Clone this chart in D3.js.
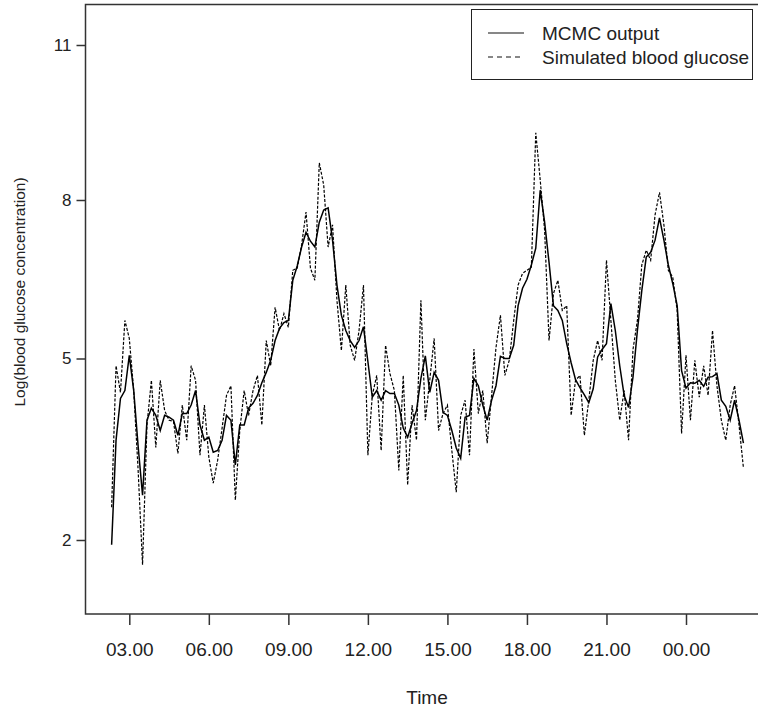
<!DOCTYPE html>
<html>
<head>
<meta charset="utf-8">
<script src="https://cdn.jsdelivr.net/npm/d3@7"></script>
<style>
  html, body { margin: 0; padding: 0; background: #fff; }
  svg { display: block; }
  text { font-family: "Liberation Sans", Arial, Helvetica, sans-serif; fill: #222; }
</style>
</head>
<body>
<svg id="chart" width="758" height="711"></svg>
<script>
// Readings every 10 minutes, starting 02:20
const startTime = "2000-01-01 02:20";
const stepMinutes = 10;

// Posterior (MCMC) estimate of log blood glucose
const mcmcOutput = [
  1.92, 3.65, 4.34, 4.47, 5.06, 4.47, 3.55, 2.74, 3.98, 4.18,
  4.06, 3.81, 4.06, 4.03, 3.98, 3.73, 4.09, 4.09, 4.23, 4.47,
  3.90, 3.65, 3.70, 3.45, 3.48, 3.65, 4.06, 3.98, 3.24, 3.90,
  3.90, 4.18, 4.26, 4.39, 4.60, 4.77, 4.97, 5.34, 5.57, 5.68,
  5.72, 6.48, 6.75, 7.11, 7.39, 7.22, 7.11, 7.58, 7.81, 7.85,
  7.24, 6.39, 5.82, 5.53, 5.34, 5.21, 5.34, 5.60, 4.95, 4.36,
  4.47, 4.31, 4.47, 4.42, 4.42, 4.23, 3.85, 3.70, 3.93, 4.14,
  4.67, 5.05, 4.44, 4.77, 4.64, 4.11, 4.06, 3.81, 3.52, 3.35,
  4.03, 4.06, 4.67, 4.55, 4.23, 3.98, 4.31, 4.55, 5.04, 5.00,
  5.00, 5.25, 6.00, 6.33, 6.50, 6.77, 7.09, 8.19, 7.58, 6.82,
  6.00, 5.91, 5.72, 5.28, 4.93, 4.65, 4.52, 4.40, 4.27, 4.50,
  5.03, 5.17, 5.28, 6.04, 5.53, 4.88, 4.39, 4.19, 4.69, 5.53,
  6.29, 6.92, 7.01, 7.24, 7.66, 7.24, 6.77, 6.42, 6.00, 4.80,
  4.51, 4.60, 4.59, 4.64, 4.54, 4.69, 4.70, 4.75, 4.31, 4.21,
  3.98, 4.31, 3.98, 3.60
];

// Simulated blood glucose series
const simulatedGlucose = [
  2.54, 4.88, 4.44, 5.72, 5.38, 4.47, 3.15, 1.59, 3.90, 4.64,
  3.53, 4.64, 4.14, 3.98, 3.96, 3.43, 4.23, 3.65, 4.88, 4.64,
  3.40, 4.23, 3.37, 2.94, 3.32, 3.85, 4.39, 4.55, 2.66, 3.81,
  4.47, 4.06, 4.47, 4.72, 3.90, 5.34, 4.88, 5.97, 5.53, 5.85,
  5.59, 6.67, 6.71, 7.15, 7.77, 6.71, 6.48, 8.72, 8.29, 7.11,
  7.53, 6.10, 5.15, 6.39, 5.25, 4.97, 5.53, 6.39, 3.40, 4.39,
  4.72, 3.48, 5.25, 4.75, 4.47, 3.15, 4.72, 2.91, 4.23, 3.65,
  6.10, 3.98, 4.64, 5.38, 3.81, 4.09, 4.23, 3.48, 2.79, 4.06,
  4.31, 3.40, 5.18, 4.09, 4.47, 3.60, 4.39, 5.21, 5.82, 4.72,
  4.97, 5.72, 6.39, 6.61, 6.67, 6.73, 9.30, 8.39, 7.43, 5.34,
  6.23, 6.48, 5.91, 6.00, 4.06, 4.64, 4.72, 3.73, 4.31, 4.97,
  5.34, 4.97, 6.86, 5.72, 4.64, 3.98, 4.47, 3.65, 5.17, 5.72,
  6.77, 7.05, 6.86, 7.72, 8.15, 7.53, 6.67, 6.54, 5.91, 3.76,
  5.06, 3.98, 4.97, 4.36, 4.88, 4.39, 5.53, 4.55, 3.98, 3.65,
  4.23, 4.55, 3.90, 3.19
];

// Axis ticks
const xTickTimes = ["2000-01-01 03:00", "2000-01-01 06:00", "2000-01-01 09:00", "2000-01-01 12:00",
                    "2000-01-01 15:00", "2000-01-01 18:00", "2000-01-01 21:00", "2000-01-02 00:00"];
const xTickLabels = ["03.00", "06.00", "09.00", "12.00", "15.00", "18.00", "21.00", "00.00"];
const yTickValues = [2, 5, 8, 11];

const seriesNames = ["MCMC output", "Simulated blood glucose"];

// ---- drawing ----
const svg = d3.select("#chart");
const parse = d3.timeParse("%Y-%m-%d %H:%M");
const t0 = parse(startTime);

const plot = { left: 85.5, right: 768, top: 4.5, bottom: 614 };

const x = d3.scaleTime()
  .domain([parse(xTickTimes[0]), parse(xTickTimes[xTickTimes.length - 1])])
  .range([129.3, 686]);

// The vertical axis is spaced unevenly between its labelled values
const y = d3.scaleLinear()
  .domain(yTickValues)
  .range([540, 358.5, 200, 45]);

const timeAt = i => d3.timeMinute.offset(t0, i * stepMinutes);

const line = d3.line()
  .x((d, i) => x(timeAt(i)))
  .y(d => y(d));

const g = svg.append("g");

// clip lines to the plotting region
svg.append("clipPath").attr("id", "plot-clip")
  .append("rect")
  .attr("x", plot.left).attr("y", plot.top)
  .attr("width", plot.right - plot.left).attr("height", plot.bottom - plot.top);

const lines = g.append("g").attr("clip-path", "url(#plot-clip)");

lines.append("path")
  .datum(simulatedGlucose)
  .attr("d", line)
  .attr("fill", "none")
  .attr("stroke", "#000")
  .attr("stroke-width", 1.2)
  .attr("stroke-dasharray", "3,1.6");

lines.append("path")
  .datum(mcmcOutput)
  .attr("d", line)
  .attr("fill", "none")
  .attr("stroke", "#000")
  .attr("stroke-width", 1.5);

// frame
g.append("rect")
  .attr("x", plot.left).attr("y", plot.top)
  .attr("width", plot.right - plot.left).attr("height", plot.bottom - plot.top)
  .attr("fill", "none")
  .attr("stroke", "#333")
  .attr("stroke-width", 1.5);

// x axis
const xAxis = d3.axisBottom(x)
  .tickValues(xTickTimes.map(parse))
  .tickFormat((d, i) => xTickLabels[i])
  .tickSize(11)
  .tickPadding(18);

const gx = g.append("g")
  .attr("transform", `translate(0,${plot.bottom})`)
  .call(xAxis);
gx.select(".domain").remove();
gx.selectAll(".tick line").attr("stroke", "#333").attr("stroke-width", 1.5);
gx.selectAll(".tick text")
  .attr("font-size", 19)
  .attr("fill", "#222");

// y axis
const yAxis = d3.axisLeft(y)
  .tickValues(yTickValues)
  .tickSize(9)
  .tickPadding(5);

const gy = g.append("g")
  .attr("transform", `translate(${plot.left},0)`)
  .call(yAxis);
gy.select(".domain").remove();
gy.selectAll(".tick line").attr("stroke", "#333").attr("stroke-width", 1.5);
gy.selectAll(".tick text")
  .attr("font-size", 17)
  .attr("fill", "#222");

// axis titles
g.append("text")
  .attr("x", 427).attr("y", 704)
  .attr("text-anchor", "middle")
  .attr("font-size", 19)
  .text("Time");

g.append("text")
  .attr("transform", "translate(25,292) rotate(-90)")
  .attr("text-anchor", "middle")
  .attr("font-size", 15.5)
  .text("Log(blood glucose concentration)");

// legend
const legend = g.append("g");
legend.append("rect")
  .attr("x", 471.5).attr("y", 9.5)
  .attr("width", 281).attr("height", 70)
  .attr("fill", "#fff")
  .attr("stroke", "#222")
  .attr("stroke-width", 1);

const legendRows = legend.selectAll(".row")
  .data(seriesNames)
  .join("g")
  .attr("class", "row")
  .attr("transform", (d, i) => `translate(0,${33 + i * 24})`);

legendRows.append("line")
  .attr("x1", 488).attr("x2", 524)
  .attr("y1", 0).attr("y2", 0)
  .attr("stroke", "#111")
  .attr("stroke-width", 1.2)
  .attr("stroke-dasharray", (d, i) => i === 1 ? "5,4" : null);

legendRows.append("text")
  .attr("x", 542).attr("y", 7)
  .attr("font-size", 19)
  .text(d => d);
</script>
</body>
</html>
